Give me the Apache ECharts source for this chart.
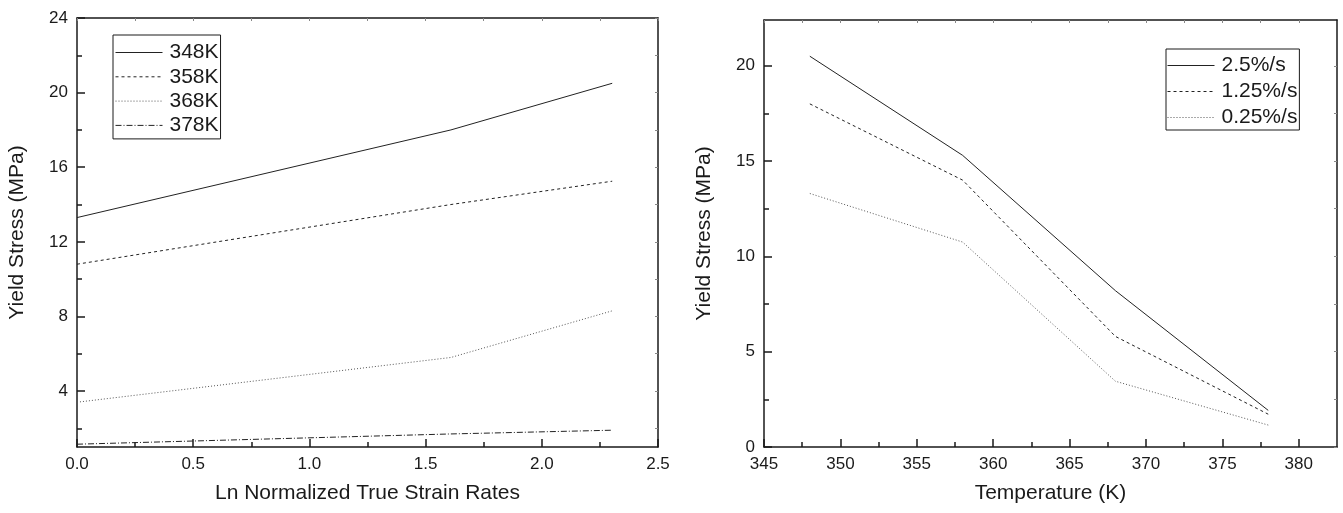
<!DOCTYPE html>
<html lang="en">
<head>
    <meta charset="UTF-8">
    <title>Yield Stress</title>
    <style>
        html,body{
            padding: 0;
            margin: 0;
            width: 100%;
            height: 100%;
            background: #fff;
        }
        .chart{
            width: 1343px;
            height: 513px;
        }
    </style>
    <script src="https://cdn.jsdelivr.net/npm/echarts@6/dist/echarts.min.js"></script>
</head>
<body>
<div class="chart"></div>
<script>
    // left panel: yield stress vs ln normalized strain rate
    let strainX = [0, 1.609, 2.303];
    let k348 = [13.3, 18.0, 20.5];
    let k358 = [10.8, 14.0, 15.25];
    let k368 = [3.4, 5.8, 8.3];
    let k378 = [1.15, 1.7, 1.9];
    let tempNames = ['348K', '358K', '368K', '378K'];

    // right panel: yield stress vs temperature
    let temps = [348, 358, 368, 378];
    let r25 = [20.5, 15.3, 8.2, 1.92];
    let r125 = [18.0, 14.0, 5.8, 1.72];
    let r025 = [13.3, 10.75, 3.45, 1.15];
    let rateNames = ['2.5%/s', '1.25%/s', '0.25%/s'];

    // tick values
    let leftXMajor = [0, 0.5, 1.0, 1.5, 2.0, 2.5];
    let leftXMinor = [0.25, 0.75, 1.25, 1.75, 2.25];
    let leftYMajor = [4, 8, 12, 16, 20, 24];
    let leftYMinor = [2, 6, 10, 14, 18, 22];
    let rightXMajor = [345, 350, 355, 360, 365, 370, 375, 380];
    let rightXMinor = [347.5, 352.5, 357.5, 362.5, 367.5, 372.5, 377.5];
    let rightYMajor = [0, 5, 10, 15, 20];
    let rightYMinor = [2.5, 7.5, 12.5, 17.5];

    let font = '"Liberation Sans", Arial, sans-serif';
    let ink = '#1a1a1a';

    let chart = echarts.init(document.querySelector('.chart'));

    function pairs(xs, ys) {
        return xs.map((x, i) => [x, ys[i]]);
    }

    // builds major / minor / mirror axes for one dimension of a grid
    function axes(gridIndex, pos, mirror, min, max, major, minor, labelFmt, name, nameGap) {
        let all = major.concat(minor).sort((a, b) => a - b);
        let base = {
            gridIndex: gridIndex,
            type: 'value',
            min: min,
            max: max,
            splitLine: {show: false},
            silent: true
        };
        return [
            Object.assign({}, base, {
                position: pos,
                name: name,
                nameLocation: 'middle',
                nameGap: nameGap,
                nameTextStyle: {fontFamily: font, fontSize: 21, color: ink},
                axisLine: {show: true, onZero: false, lineStyle: {color: ink, width: 1.5}},
                axisTick: {show: true, inside: true, length: 8, customValues: major, lineStyle: {color: ink, width: 1.5}},
                axisLabel: {
                    show: true, customValues: major, margin: 9,
                    fontFamily: font, fontSize: 17, color: ink,
                    formatter: labelFmt
                }
            }),
            Object.assign({}, base, {
                position: pos,
                axisLine: {show: false, onZero: false},
                axisTick: {show: true, inside: true, length: 5, customValues: minor, lineStyle: {color: ink, width: 1.5}},
                axisLabel: {show: false}
            }),
            Object.assign({}, base, {
                position: mirror,
                axisLine: {show: true, onZero: false, lineStyle: {color: ink, width: 1.5}},
                axisTick: {show: true, inside: true, length: 3, customValues: all, lineStyle: {color: '#888', width: 1}},
                axisLabel: {show: false}
            })
        ];
    }

    let xAxes = [].concat(
        axes(0, 'bottom', 'top', 0, 2.5, leftXMajor, leftXMinor, v => v.toFixed(1), 'Ln Normalized True Strain Rates', 36),
        axes(1, 'bottom', 'top', 345, 382.5, rightXMajor, rightXMinor, v => String(v), 'Temperature (K)', 36)
    );
    let yAxes = [].concat(
        axes(0, 'left', 'right', 1, 24, leftYMajor, leftYMinor, v => String(v), 'Yield Stress (MPa)', 49),
        axes(1, 'left', 'right', 0, 22.4, rightYMajor, rightYMinor, v => String(v), 'Yield Stress (MPa)', 49)
    );

    let dash = [3, 3];
    let dot = [1, 2];
    let dashDot = [6, 2, 1, 2];

    function line(name, data, grid, type, color) {
        return {
            name: name,
            type: 'line',
            xAxisIndex: grid * 3,
            yAxisIndex: grid * 3,
            data: data,
            symbol: 'none',
            silent: true,
            lineStyle: {color: color, width: 1, type: type},
            itemStyle: {color: color}
        };
    }

    let series = [
        line(tempNames[0], pairs(strainX, k348), 0, 'solid', '#222'),
        line(tempNames[1], pairs(strainX, k358), 0, dash, '#222'),
        line(tempNames[2], pairs(strainX, k368), 0, dot, '#555'),
        line(tempNames[3], pairs(strainX, k378), 0, dashDot, '#222'),
        line(rateNames[0], pairs(temps, r25), 1, 'solid', '#222'),
        line(rateNames[1], pairs(temps, r125), 1, dash, '#222'),
        line(rateNames[2], pairs(temps, r025), 1, dot, '#555')
    ];

    let legendBase = {
        orient: 'vertical',
        itemWidth: 47,
        itemHeight: 14,
        borderColor: ink,
        borderWidth: 1,
        borderRadius: 0,
        selectedMode: false,
        itemStyle: {opacity: 0, borderWidth: 0},
        lineStyle: {width: 1},
        textStyle: {fontFamily: font, fontSize: 21, lineHeight: 21, color: ink, padding: [0, 0, 0, 2]}
    };

    let option = {
        animation: false,
        backgroundColor: '#fff',
        grid: [
            {left: 77, top: 18, width: 581, height: 429},
            {left: 764, top: 20, width: 573, height: 427}
        ],
        legend: [
            Object.assign({}, legendBase, {data: tempNames, left: 113, top: 35, itemGap: 3.3, padding: [7, 2, 3, 2]}),
            Object.assign({}, legendBase, {data: rateNames, left: 1166, top: 49, itemGap: 5, padding: [6, 2, 2, 1]})
        ],
        xAxis: xAxes,
        yAxis: yAxes,
        series: series
    };

    chart.setOption(option);
</script>
</body>
</html>
